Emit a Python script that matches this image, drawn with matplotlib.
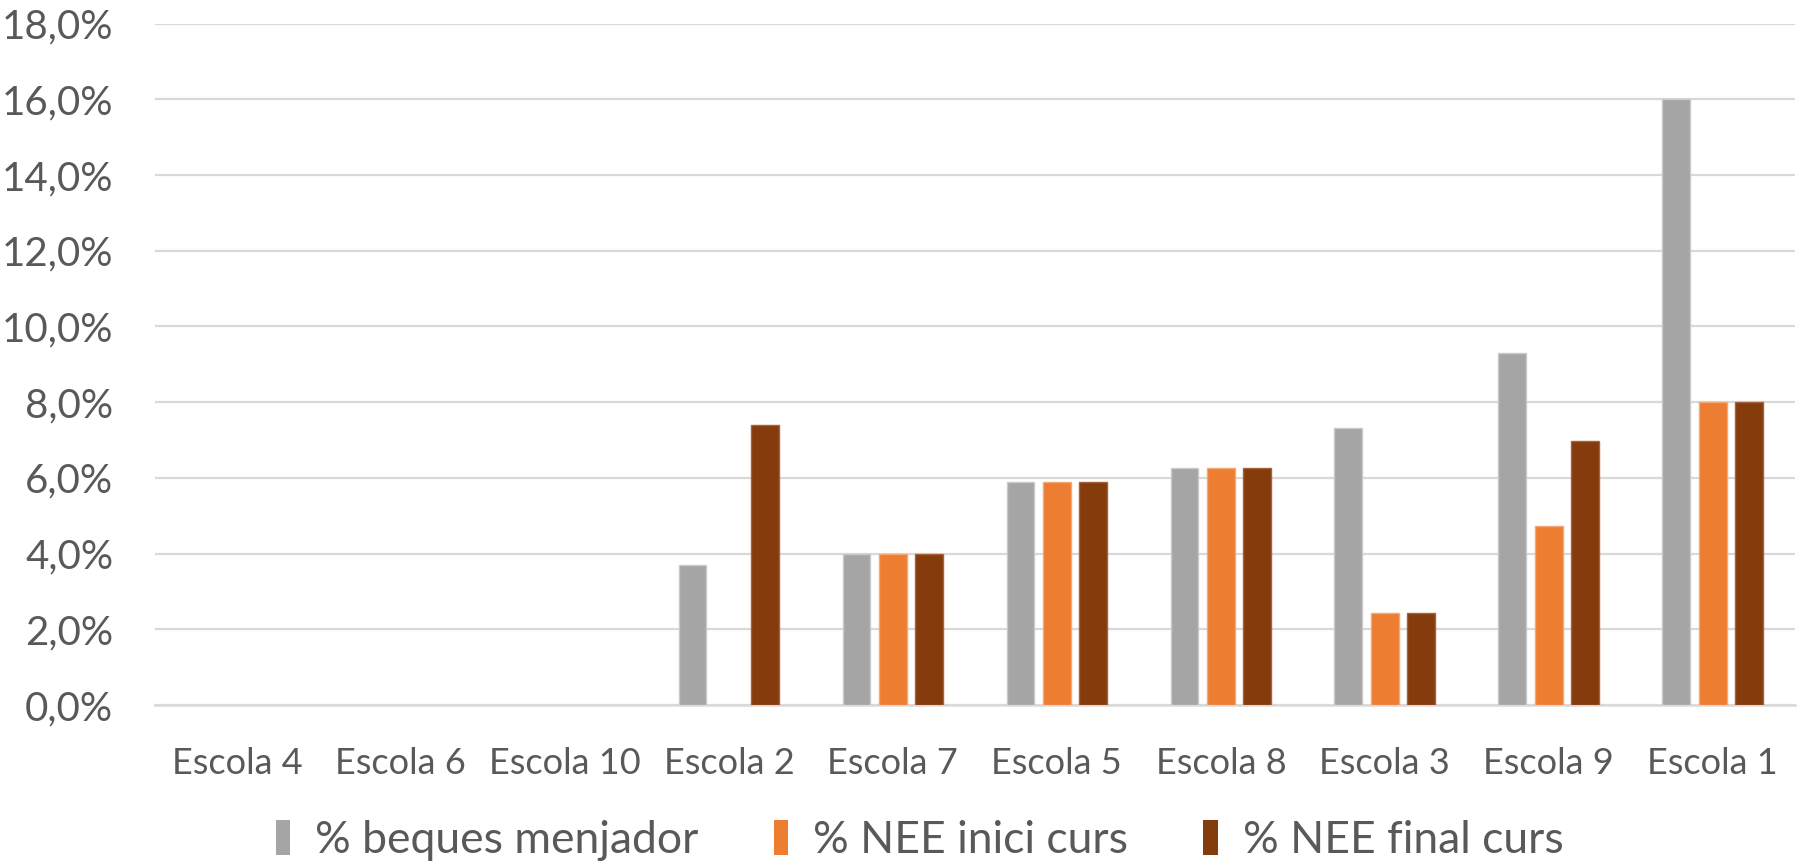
import matplotlib.pyplot as plt
import numpy as np
from matplotlib.ticker import FuncFormatter

escoles = ["Escola 4", "Escola 6", "Escola 10", "Escola 2", "Escola 7",
           "Escola 5", "Escola 8", "Escola 3", "Escola 9", "Escola 1"]
beques = [0, 0, 0, 3.7, 4.0, 5.88, 6.25, 7.32, 9.3, 16.0]
nee_inici = [0, 0, 0, 0, 4.0, 5.88, 6.25, 2.44, 4.72, 8.0]
nee_final = [0, 0, 0, 7.4, 4.0, 5.88, 6.25, 2.44, 6.98, 8.0]
noms = ["% beques menjador", "% NEE inici curs", "% NEE final curs"]
colors = ["#A5A5A5", "#ED7D31", "#843C0C"]
edges = ["#C9C9C9", "#F4A875", "#A8623A"]

plt.rcParams['font.family'] = ['Lato', 'DejaVu Sans']
text_color = "#595959"

fig = plt.figure(figsize=(18.1, 8.61), dpi=100)
ax = fig.add_axes([0.0856, 0.1812, 0.906, 0.7913])

x = np.arange(len(escoles))
w = 0.17
step = 0.222
for i, serie in enumerate([beques, nee_inici, nee_final]):
    vals = np.array(serie) / 100
    # sense vora per a les barres buides
    lw = np.where(vals > 0, 1.0, 0.0)
    ax.bar(x + (i - 1) * step, vals, width=w, color=colors[i],
           edgecolor=edges[i], linewidth=lw, label=noms[i], zorder=3)

ax.set_xlim(-0.5, len(escoles) - 0.5)
ax.set_ylim(0, 0.18)
ax.set_yticks(np.arange(0, 0.181, 0.02))
ax.yaxis.set_major_formatter(FuncFormatter(lambda v, p: f"{v*100:.1f}%".replace(".", ",")))
ax.set_xticks(x)
ax.set_xticklabels(escoles)

ax.grid(axis='y', color="#D9D9D9", linewidth=1.6, zorder=0)
for s in ['top', 'right', 'left']:
    ax.spines[s].set_visible(False)
ax.spines['bottom'].set_color("#D9D9D9")
ax.spines['bottom'].set_linewidth(1.8)
ax.tick_params(axis='both', length=0, colors=text_color)
ax.tick_params(axis='x', pad=30, labelsize=26)
ax.tick_params(axis='y', pad=30, labelsize=29)

fig.legend(loc='center', bbox_to_anchor=(0.508, 0.024), ncol=3, frameon=False,
           fontsize=32, labelcolor=text_color, handlelength=0.33, handleheight=0.85,
           handletextpad=0.55, columnspacing=1.7)

fig.savefig("out.png", dpi=100)
